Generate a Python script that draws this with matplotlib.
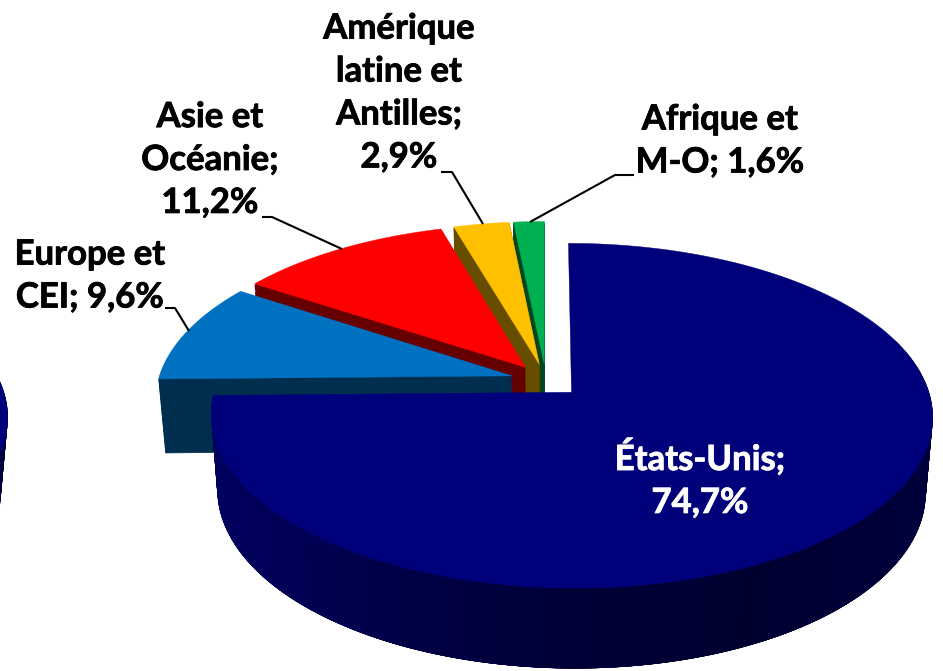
import numpy as np
import matplotlib
matplotlib.use('Agg')
import matplotlib.pyplot as plt
import matplotlib.patheffects as pe
from matplotlib.patches import Polygon
from matplotlib.colors import LinearSegmentedColormap

# data, clockwise from 12 o'clock
names = ['États-Unis', 'Europe et\nCEI', 'Asie et\nOcéanie', 'Amérique\nlatine et\nAntilles', 'Afrique et\nM-O']
values = [74.7, 9.6, 11.2, 2.9, 1.6]
seps = [';\n', '; ', ';\n', ';\n', '; ']
top_colors = ['#00007A', '#0070C0', '#FF0000', '#FFC000', '#00B050']
side_colors = ['#000048', '#002E4E', '#660000', '#664D00', '#00461F']
label_pos = [(700, 479), (90, 276), (210, 160), (399, 93), (720, 141)]
label_colors = ['white', 'black', 'black', 'black', 'black']
leaders = [None,
           [(165, 308), (175, 308), (189, 331)],
           [(262, 217), (272, 217), (342, 249)],
           [(441, 172), (452, 172), (483, 224)],
           [(634, 175), (615, 175), (530, 222)]]

# projection of the pie plane onto the picture (pixels)
cx, cy = 546, 380.5
rx, ry = 354, 166
persp = 0.135
depth = 74


def project(u, v, t=0.0, shift=0):
    # t = 0 top face, t = 1 bottom face
    w = 1 + persp * v
    x = rx * u / w
    y = cy - ry * v / w + t * (depth - 6 * v)
    return cx + shift + x * (1 - 0.018 * t), y


def outline(wedge, n=200):
    a = np.radians(np.linspace(wedge.theta1, wedge.theta2, n))
    ox, oy = wedge.center
    u = np.r_[ox, ox + wedge.r * np.cos(a)]
    v = np.r_[oy, oy + wedge.r * np.sin(a)]
    return u, v


def draw_slice(ax, wedge, top, side, shift=0, zorder=1):
    u, v = outline(wedge)
    for t in np.linspace(1, 0.02, 60):
        x, y = project(u, v, t, shift)
        ax.add_patch(Polygon(np.c_[x, y], fc=side, ec=side, lw=0.5, zorder=zorder))
    x, y = project(u, v, 0, shift)
    ax.add_patch(Polygon(np.c_[x, y], fc=top, ec=top, lw=0.3, zorder=zorder))


def draw_main(ax, wedge, shift=0, zorder=6):
    # rim of the big slice gets darker from left to right
    cmap = LinearSegmentedColormap.from_list('rim', ['#00005E', '#000048', '#000036', '#000030', '#00003C'])
    u, v = outline(wedge, 400)
    x0, y0 = project(u, v, 0, shift)
    x1, y1 = project(u, v, 1, shift)
    # quads overlap the next ones so no seams show, back part stays hidden anyway
    for i in range(1, len(u) - 1):
        if v[i] > 0.2:
            continue
        j = min(i + 6, len(u) - 1)
        c = cmap((x0[i] - shift - 213) / 720)
        quad = [(x0[i], y0[i]), (x0[j], y0[j]), (x1[j], y1[j]), (x1[i], y1[i])]
        ax.add_patch(Polygon(quad, fc=c, ec='none', zorder=zorder))
    ax.add_patch(Polygon(np.c_[x0, y0], fc=top_colors[0], ec=top_colors[0], lw=0.3, zorder=zorder))


fig = plt.figure(figsize=(9.43, 6.71), dpi=100)
ax = fig.add_axes([0, 0, 1, 1])

wedges, _ = ax.pie(values, explode=[0.1] * len(values), startangle=90, counterclock=False, radius=1)
for w in wedges:
    w.remove()

ax.set_aspect('auto')
ax.set_xlim(0, 943)
ax.set_ylim(671, 0)
ax.axis('off')

# back slices first, big slice last
for i in [4, 3, 2, 1]:
    draw_slice(ax, wedges[i], top_colors[i], side_colors[i], zorder=5 - i)
draw_main(ax, wedges[0])
# piece of the neighbouring pie, cut by the left border
draw_main(ax, wedges[0], shift=-925)

for i in range(len(values)):
    txt = names[i] + seps[i] + f'{values[i]:.1f}%'.replace('.', ',')
    t = ax.text(label_pos[i][0], label_pos[i][1], txt, color=label_colors[i], family='Lato',
                weight='bold', fontsize=25, ha='center', va='center', linespacing=1.42, zorder=10)
    t.set_path_effects([pe.withStroke(linewidth=0.6, foreground=label_colors[i])])
    if leaders[i]:
        lx, ly = zip(*leaders[i])
        ax.plot(lx, ly, color='black', lw=1.5, zorder=9, solid_capstyle='butt')

fig.savefig('out.png', dpi=100)
